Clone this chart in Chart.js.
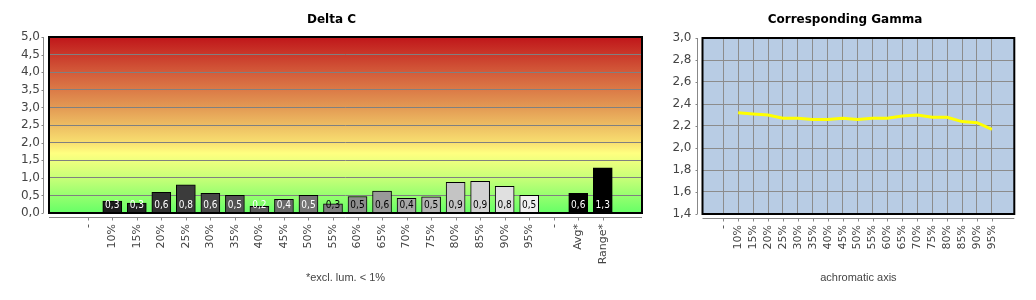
<!DOCTYPE html>
<html>
<head>
<meta charset="utf-8">
<script src="https://cdn.jsdelivr.net/npm/chart.js@4.4.0/dist/chart.umd.min.js"></script>
<style>
body { margin: 0; background: #fff; }
#wrap { position: relative; width: 1036px; height: 300px; }
canvas { position: absolute; top: 0; }
#deltaC { left: 0; }
#gamma { left: 654px; }
</style>
</head>
<body>
<div id="wrap">
<canvas id="deltaC" width="663" height="300"></canvas>
<canvas id="gamma" width="382" height="300"></canvas>
</div>
<script>
// Delta C bars ('-' slots are empty)
const deltaLabels = ['-', '10%', '15%', '20%', '25%', '30%', '35%', '40%', '45%', '50%',
                     '55%', '60%', '65%', '70%', '75%', '80%', '85%', '90%', '95%', '-', 'Avg*', 'Range*'];
const deltaValues = [null, 0.34, 0.28, 0.59, 0.80, 0.56, 0.50, 0.19, 0.39, 0.50,
                     0.26, 0.47, 0.62, 0.42, 0.46, 0.87, 0.90, 0.76, 0.50, null, 0.56, 1.28];
const barColors = ['', '#1c1c1c', '#232323', '#303030', '#3b3b3b', '#474747', '#525252', '#5c5c5c', '#686868', '#747474',
                   '#808080', '#8c8c8c', '#999999', '#a6a6a6', '#b3b3b3', '#c4c4c4', '#d2d2d2', '#e0e0e0', '#f0f0f0', '', '#000000', '#000000'];

// Corresponding gamma line
const gammaLabels = ['-', '10%', '15%', '20%', '25%', '30%', '35%', '40%', '45%', '50%',
                     '55%', '60%', '65%', '70%', '75%', '80%', '85%', '90%', '95%'];
const gammaValues = [null, 2.32, 2.31, 2.30, 2.27, 2.27, 2.26, 2.26, 2.27, 2.26,
                     2.27, 2.27, 2.29, 2.30, 2.28, 2.28, 2.24, 2.23, 2.17];

const comma = v => Number(v).toFixed(1).replace('.', ',');
const tickFont = {family: 'DejaVu Sans', size: 11};
const valFont = {family: 'DejaVu Sans', size: 12};
const axisFont = {family: 'Liberation Sans', size: 11};

// background, frame, title and the detached axis lines
const plotFrame = {
    id: 'plotFrame',
    beforeDraw(chart, args, opts) {
        const {ctx, chartArea: a} = chart;
        ctx.save();
        if (opts.stops) {
            const g = ctx.createLinearGradient(0, a.top, 0, a.bottom);
            opts.stops.forEach(s => g.addColorStop(s[0], s[1]));
            ctx.fillStyle = g;
        } else {
            ctx.fillStyle = opts.fill;
        }
        ctx.fillRect(a.left, a.top, a.width, a.height);
        ctx.restore();
    },
    afterDraw(chart, args, opts) {
        const {ctx, chartArea: a, scales} = chart;
        ctx.save();
        ctx.strokeStyle = '#888';
        ctx.lineWidth = 1;
        const ax = Math.floor(a.left - 5.5) + 0.5;
        const ay = Math.floor(a.bottom + 4.5) + 0.5;
        ctx.beginPath();
        ctx.moveTo(ax, a.top); ctx.lineTo(ax, a.bottom);
        scales.y.ticks.forEach(t => {
            const py = Math.round(scales.y.getPixelForValue(t.value)) + 0.5;
            ctx.moveTo(ax - 2, py); ctx.lineTo(ax, py);
        });
        ctx.moveTo(a.left, ay); ctx.lineTo(a.right, ay);
        scales.x.ticks.forEach(t => {
            const px = Math.round(scales.x.getPixelForValue(t.value)) + 0.5;
            ctx.moveTo(px, ay); ctx.lineTo(px, ay + 3);
        });
        ctx.stroke();
        ctx.strokeStyle = '#000';
        ctx.lineWidth = 2;
        ctx.strokeRect(a.left, a.top, a.width, a.height);

        ctx.fillStyle = '#000';
        ctx.font = "bold 12px 'DejaVu Sans'";
        ctx.textAlign = 'center';
        ctx.textBaseline = 'middle';
        ctx.fillText(opts.title, opts.titleX, 20);
        ctx.restore();
    }
};

const barLabels = {
    id: 'barLabels',
    afterDatasetsDraw(chart) {
        const {ctx, scales: {y}} = chart;
        const base = y.getPixelForValue(0) - 7.5;
        ctx.save();
        ctx.font = "10px 'Liberation Sans Narrow', 'DejaVu Sans Condensed', sans-serif";
        ctx.textAlign = 'center';
        ctx.textBaseline = 'middle';
        chart.getDatasetMeta(0).data.forEach((bar, i) => {
            const v = deltaValues[i];
            if (v == null) return;
            ctx.fillStyle = parseInt(barColors[i].slice(1, 3), 16) < 0x7a ? '#fff' : '#000';
            ctx.fillText(comma(v), bar.x, base);
        });
        ctx.restore();
    }
};

new Chart(document.getElementById('deltaC'), {
    type: 'bar',
    data: {
        datasets: [{
            data: deltaValues.map((v, i) => ({x: i, y: v})),
            backgroundColor: barColors,
            borderColor: '#000',
            borderWidth: 1,
            barThickness: 19
        }]
    },
    options: {
        responsive: false,
        animation: false,
        layout: {padding: {left: 0, right: 21, top: 37, bottom: 0}},
        plugins: {
            legend: {display: false},
            tooltip: {enabled: false},
            plotFrame: {
                title: 'Delta C', titleX: 331.5,
                stops: [[0, '#c0161a'], [0.2, '#d35b3a'], [0.4, '#e39a54'], [0.6, '#f8df70'],
                        [0.66, '#ffff80'], [0.8, '#c8ff78'], [1, '#66ff66']]
            }
        },
        scales: {
            x: {
                type: 'linear', min: -1.58, max: 22.6, offset: false,
                afterBuildTicks: s => { s.ticks = deltaLabels.map((l, i) => ({value: i})); },
                afterFit: s => { s.height = 87; },
                grid: {display: false, drawTicks: false, tickLength: 0},
                border: {display: false},
                ticks: {autoSkip: false, minRotation: 90, maxRotation: 90, padding: 11, color: '#444',
                        font: tickFont, callback: v => deltaLabels[v]},
                title: {display: true, text: '*excl. lum. < 1%', color: '#444', font: axisFont, padding: {top: 0, bottom: 15}}
            },
            y: {
                min: 0, max: 5,
                afterFit: s => { s.width = 49; },
                grid: {color: '#808080', drawTicks: false, tickLength: 0},
                border: {display: false},
                ticks: {stepSize: 0.5, padding: 9, color: '#444', font: valFont, callback: comma}
            }
        }
    },
    plugins: [plotFrame, barLabels]
});

new Chart(document.getElementById('gamma'), {
    type: 'line',
    data: {
        datasets: [{
            data: gammaValues.map((v, i) => ({x: i, y: v})),
            borderColor: '#ffff00',
            borderWidth: 3,
            pointRadius: 0,
            tension: 0,
            fill: false
        }]
    },
    options: {
        responsive: false,
        animation: false,
        layout: {padding: {left: 0, right: 21.7, top: 38, bottom: 0}},
        plugins: {
            legend: {display: false},
            tooltip: {enabled: false},
            plotFrame: {title: 'Corresponding Gamma', titleX: 191, fill: '#b8cce4'}
        },
        scales: {
            x: {
                type: 'linear', min: -1.39, max: 19.5, offset: false,
                afterBuildTicks: s => { s.ticks = gammaLabels.map((l, i) => ({value: i})); },
                afterFit: s => { s.height = 86; },
                grid: {color: '#8c8c8c', drawTicks: false, tickLength: 0},
                border: {display: false},
                ticks: {autoSkip: false, minRotation: 90, maxRotation: 90, padding: 11, color: '#444',
                        font: tickFont, callback: v => gammaLabels[v]},
                title: {display: true, text: 'achromatic axis', color: '#444', font: axisFont, padding: {top: 0, bottom: 15}}
            },
            y: {
                min: 1.4, max: 3.0,
                afterFit: s => { s.width = 48.5; },
                grid: {color: '#8c8c8c', drawTicks: false, tickLength: 0},
                border: {display: false},
                ticks: {stepSize: 0.2, padding: 11, color: '#444', font: valFont, callback: comma}
            }
        }
    },
    plugins: [plotFrame]
});
</script>
</body>
</html>
